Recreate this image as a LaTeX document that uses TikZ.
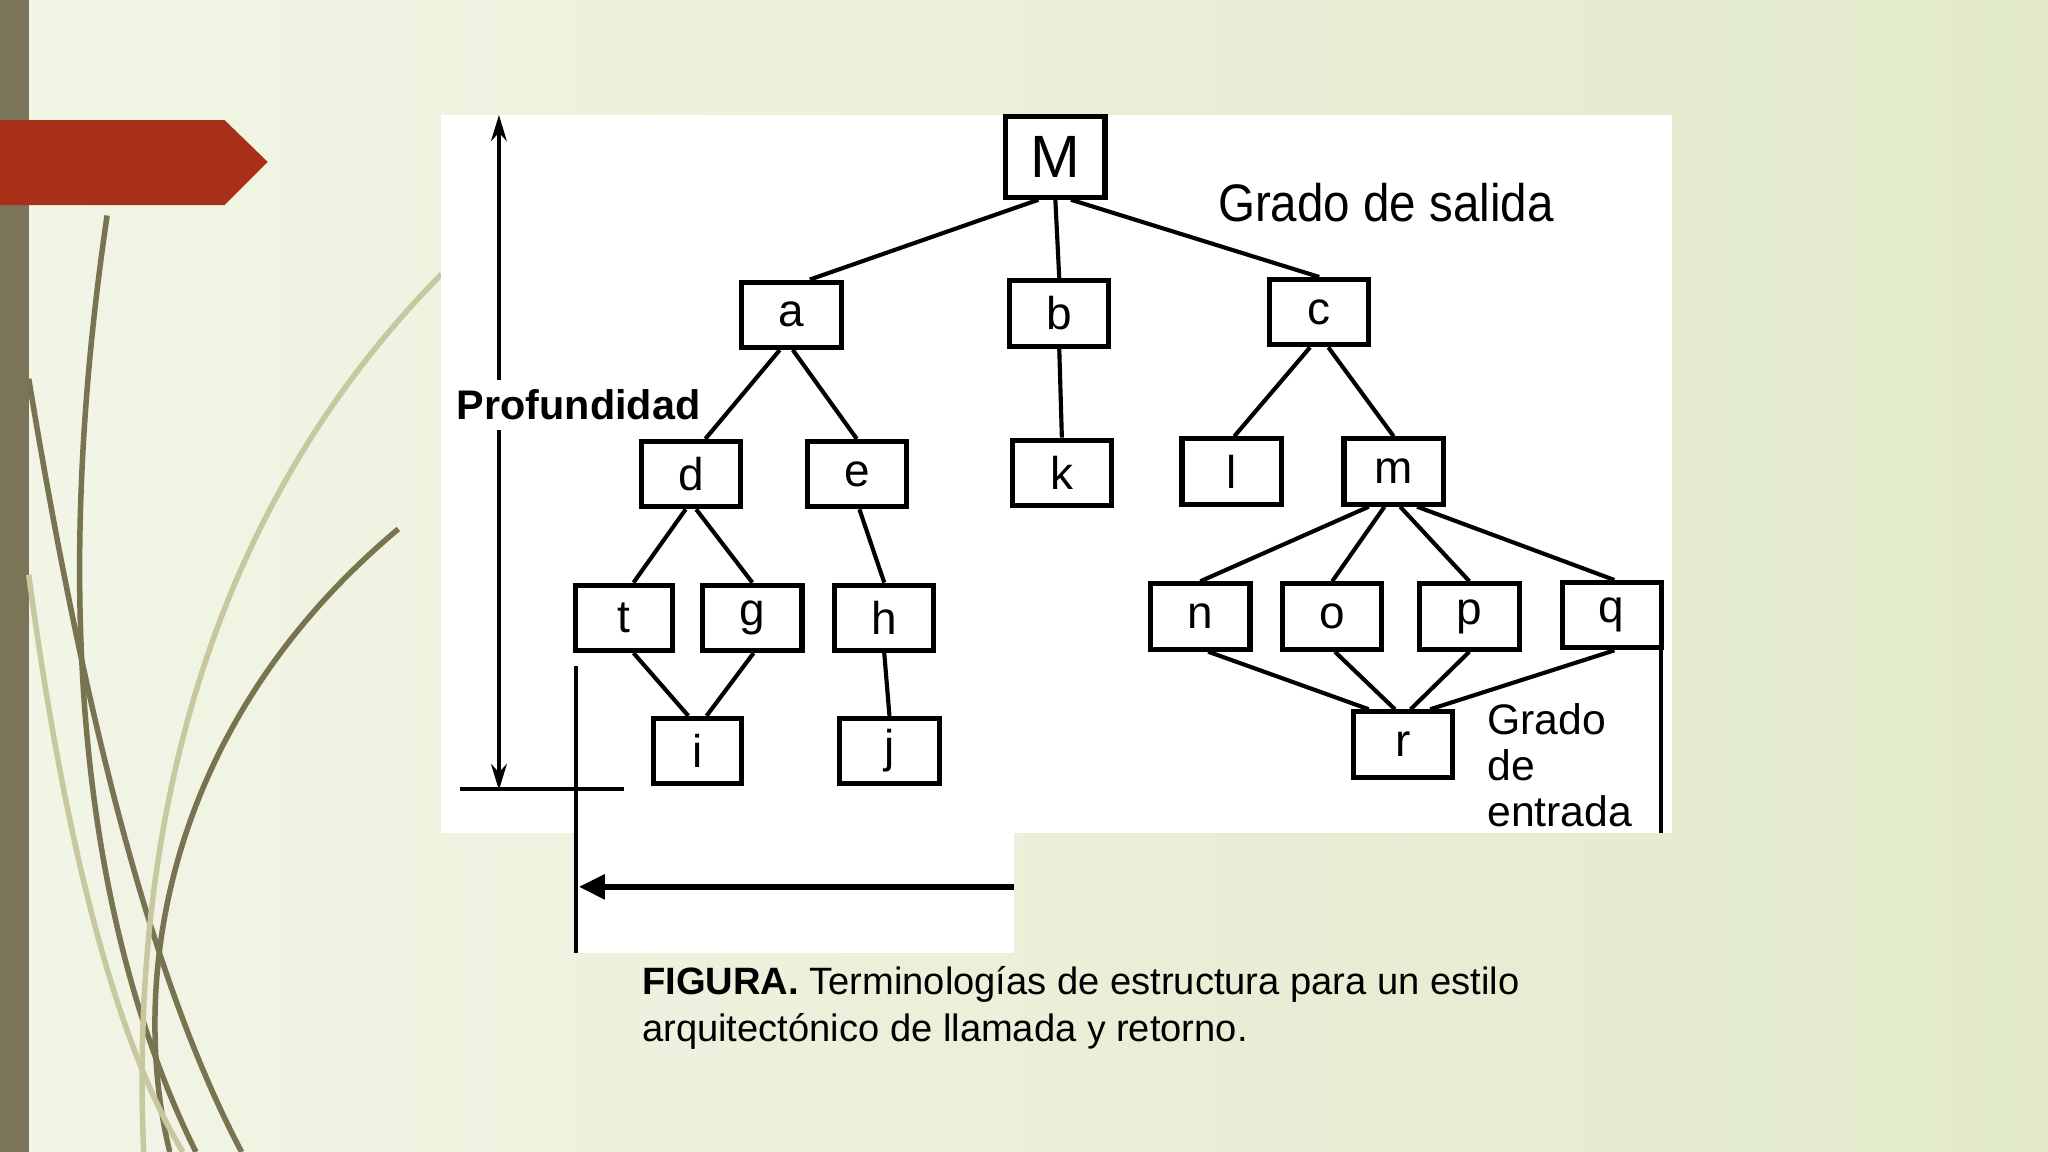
\documentclass[tikz,border=0pt]{standalone}
\usepackage{fontspec}
\setmainfont{Liberation Sans}
\usetikzlibrary{arrows.meta}
\definecolor{bgl}{RGB}{242,245,230}
\definecolor{bgr}{RGB}{226,234,203}
\definecolor{bar}{RGB}{122,116,88}
\definecolor{redarr}{RGB}{168,48,24}
\definecolor{cdark}{RGB}{120,115,80}
\definecolor{clight}{RGB}{200,200,160}
\begin{document}
\begin{tikzpicture}[x=0.01cm,y=-0.01cm,
  bx/.style={draw,line width=1.1pt,minimum width=0.76cm,minimum height=0.5cm,inner sep=0,font=\fontsize{10}{11}\selectfont},
  ln/.style={line width=0.9pt}]
\useasboundingbox (0,0) rectangle (1568,882);
\shade[left color=bgl, right color=bgr] (0,0) rectangle (1568,882);
\fill[bar] (0,0) rectangle (22,882);
% decorative curves
\begin{scope}[line width=1.2pt]
\draw[cdark] (82,165) .. controls (40,450) and (60,700) .. (150,882);
\draw[cdark] (305,405) .. controls (120,560) and (100,760) .. (130,882);
\draw[cdark] (22,290) .. controls (60,520) and (110,740) .. (185,882);
\draw[clight] (338,210) .. controls (150,400) and (100,650) .. (110,882);
\draw[clight] (22,440) .. controls (50,650) and (90,800) .. (140,882);
\end{scope}
\fill[redarr] (0,92) -- (172,92) -- (205,124) -- (172,157) -- (0,157) -- cycle;
% white panels
\fill[white] (338,88) rectangle (1280,638);
\fill[white] (440,638) rectangle (776,730);
% nodes
\node[bx,minimum height=0.62cm,font=\fontsize{13}{14}\selectfont] (M) at (808,120) {M};
\node[bx] (a) at (606,241) {a};
\node[bx] (b) at (811,240) {b};
\node[bx] (c) at (1010,239) {c};
\node[bx] (d) at (529,363) {d};
\node[bx] (e) at (656,363) {e};
\node[bx] (k) at (813,362) {k};
\node[bx] (l) at (943,361) {l};
\node[bx] (m) at (1067,361) {m};
\node[bx,minimum width=0.74cm] (t) at (478,473) {t};
\node[bx] (g) at (576,473) {g};
\node[bx] (h) at (677,473) {h};
\node[bx] (n) at (919,472) {n};
\node[bx] (o) at (1020,472) {o};
\node[bx] (p) at (1125,472) {p};
\node[bx] (q) at (1234,471) {q};
\node[bx,minimum width=0.67cm] (i) at (534,575) {i};
\node[bx] (j) at (681,575) {j};
\node[bx] (r) at (1074,570) {r};
% edges
\draw[ln] ([xshift=-0.13cm]M.south) -- ([xshift=0.14cm]a.north);
\draw[ln] (M.south) -- (b.north);
\draw[ln] ([xshift=0.12cm]M.south) -- (c.north);
\draw[ln] ([xshift=-0.09cm]a.south) -- ([xshift=0.11cm]d.north);
\draw[ln] ([xshift=0.01cm]a.south) -- (e.north);
\draw[ln] (b.south) -- (k.north);
\draw[ln] ([xshift=-0.07cm]c.south) -- ([xshift=0.02cm]l.north);
\draw[ln] ([xshift=0.07cm]c.south) -- (m.north);
\draw[ln] ([xshift=-0.04cm]d.south) -- ([xshift=0.07cm]t.north);
\draw[ln] ([xshift=0.04cm]d.south) -- (g.north);
\draw[ln] ([xshift=0.02cm]e.south) -- (h.north);
\draw[ln] ([xshift=-0.19cm]m.south) -- (n.north);
\draw[ln] ([xshift=-0.07cm]m.south) -- (o.north);
\draw[ln] ([xshift=0.05cm]m.south) -- (p.north);
\draw[ln] ([xshift=0.18cm]m.south) -- ([xshift=0.02cm]q.north);
\draw[ln] ([xshift=0.07cm]t.south) -- ([xshift=-0.07cm]i.north);
\draw[ln] ([xshift=0.01cm]g.south) -- ([xshift=0.07cm]i.north);
\draw[ln] (h.south) -- (j.north);
\draw[ln] ([xshift=0.06cm]n.south) -- ([xshift=-0.26cm]r.north);
\draw[ln] ([xshift=0.02cm]o.south) -- ([xshift=-0.06cm]r.north);
\draw[ln] (p.south) -- ([xshift=0.06cm]r.north);
\draw[ln] ([xshift=0.02cm]q.south) -- ([xshift=0.21cm]r.north);
% labels
\node[font=\bfseries\fontsize{9}{10}\selectfont,fill=white,inner sep=2] (prof) at (443,310) {Profundidad};
\node[font=\fontsize{11.5}{12}\selectfont,anchor=west,xscale=0.9,inner sep=0] (gs) at (932,155) {Grado de salida};
\node[font=\fontsize{9.3}{10}\selectfont,anchor=north west,align=left,inner sep=0] (ge) at (1138,538) {Grado\\de\\entrada};
% depth arrow
\coordinate (dt) at (382,88); \coordinate (db) at (382,605);
\draw[ln,-{Stealth[length=0.2cm,width=0.12cm]}] (prof.north -| dt) -- (dt);
\draw[ln,-{Stealth[length=0.2cm,width=0.12cm]}] (prof.south -| db) -- (db);
\coordinate (h1) at (352,604); \coordinate (h2) at (478,604);
\draw[ln] (h1) -- (h2);
\coordinate (rv1) at (1272,496); \coordinate (rv2) at (1272,638);
\draw[ln] (rv1) -- (rv2);
\coordinate (lv1) at (441,510); \coordinate (lv2) at (441,730);
\draw[ln] (lv1) -- (lv2);
\coordinate (ha) at (776,679); \coordinate (hb) at (443,679);
\draw[line width=1.4pt,-{Triangle[length=0.2cm,width=0.18cm]}] (ha) -- (hb);
% caption
\node[anchor=north west,align=left,inner sep=0,font=\fontsize{8.3}{10.2}\selectfont] (cap) at (491,739)
 {\textbf{FIGURA.} Terminologías de estructura para un estilo\\arquitectónico de llamada {\footnotesize y} retorno.};
\end{tikzpicture}
\end{document}
